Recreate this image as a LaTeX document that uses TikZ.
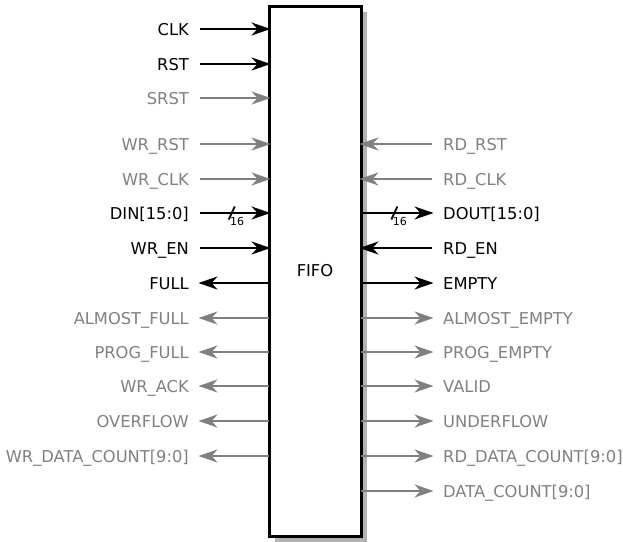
\documentclass[tikz,border=0pt]{standalone}
\usepackage{fontspec}
\setmainfont{DejaVu Sans}
\usetikzlibrary{arrows.meta, positioning, shadows}

\begin{document}
\begin{tikzpicture}[x=1pt, y=-1pt,
    sig/.style={line width=2pt, shorten >=-1.5pt, -{Stealth[length=19pt, width=13pt, inset=6pt]}},
    lbl/.style={inner xsep=11pt, inner ysep=0pt, text height=12pt, text depth=0pt, font=\fontsize{16.3}{19}\selectfont},
    lin/.style={lbl, anchor=east},
    rin/.style={lbl, anchor=west},
    opt/.style={text=gray},
    busw/.style={font=\fontsize{11}{12}\selectfont, inner sep=0pt}]
\useasboundingbox (0,0) rectangle (623,541);
\node[draw, line width=3pt, outer sep=0pt, fill=white, minimum width=92pt, minimum height=530pt,
      drop shadow={shadow xshift=6pt, shadow yshift=-6pt, fill=gray!60, opacity=1},
      font=\fontsize{16.3}{19}\selectfont] (fifo) at (315,271) {FIFO};

% write side
\node[lin] (clk) at (200,29) {CLK};
\node[lin] (rst) at (200,64) {RST};
\node[lin, opt] (srst) at (200,98) {SRST};
\node[lin, opt] (wrrst) at (200,144) {WR\_RST};
\node[lin, opt] (wrclk) at (200,179) {WR\_CLK};
\node[lin] (din) at (200,213) {DIN[15:0]};
\node[lin] (wren) at (200,248) {WR\_EN};
\node[lin] (full) at (200,283) {FULL};
\node[lin, opt] (afull) at (200,318) {ALMOST\_FULL};
\node[lin, opt] (pfull) at (200,352) {PROG\_FULL};
\node[lin, opt] (wrack) at (200,386) {WR\_ACK};
\node[lin, opt] (ovf) at (200,421) {OVERFLOW};
\node[lin, opt] (wrcnt) at (200,456) {WR\_DATA\_COUNT[9:0]};

% read side
\node[rin, opt] (rdrst) at (432,144) {RD\_RST};
\node[rin, opt] (rdclk) at (432,179) {RD\_CLK};
\node[rin] (dout) at (432,213) {DOUT[15:0]};
\node[rin] (rden) at (432,248) {RD\_EN};
\node[rin] (empty) at (432,283) {EMPTY};
\node[rin, opt] (aempty) at (432,318) {ALMOST\_EMPTY};
\node[rin, opt] (pempty) at (432,352) {PROG\_EMPTY};
\node[rin, opt] (valid) at (432,386) {VALID};
\node[rin, opt] (udf) at (432,421) {UNDERFLOW};
\node[rin, opt] (rdcnt) at (432,456) {RD\_DATA\_COUNT[9:0]};
\node[rin, opt] (cnt) at (432,491) {DATA\_COUNT[9:0]};

\draw[sig] (clk) -- (clk -| fifo.west);
\draw[sig] (rst) -- (rst -| fifo.west);
\draw[sig, gray] (srst) -- (srst -| fifo.west);
\draw[sig, gray] (wrrst) -- (wrrst -| fifo.west);
\draw[sig, gray] (wrclk) -- (wrclk -| fifo.west);
\draw[sig] (din) -- coordinate[pos=0.46] (dinbus) (din -| fifo.west);
\draw[sig] (wren) -- (wren -| fifo.west);
\draw[sig] (full -| fifo.west) -- (full);
\draw[sig, gray] (afull -| fifo.west) -- (afull);
\draw[sig, gray] (pfull -| fifo.west) -- (pfull);
\draw[sig, gray] (wrack -| fifo.west) -- (wrack);
\draw[sig, gray] (ovf -| fifo.west) -- (ovf);
\draw[sig, gray] (wrcnt -| fifo.west) -- (wrcnt);

\draw[sig, gray] (rdrst) -- (rdrst -| fifo.east);
\draw[sig, gray] (rdclk) -- (rdclk -| fifo.east);
\draw[sig] (dout -| fifo.east) -- coordinate[pos=0.47] (doutbus) (dout);
\draw[sig] (rden) -- (rden -| fifo.east);
\draw[sig] (empty -| fifo.east) -- (empty);
\draw[sig, gray] (aempty -| fifo.east) -- (aempty);
\draw[sig, gray] (pempty -| fifo.east) -- (pempty);
\draw[sig, gray] (valid -| fifo.east) -- (valid);
\draw[sig, gray] (udf -| fifo.east) -- (udf);
\draw[sig, gray] (rdcnt -| fifo.east) -- (rdcnt);
\draw[sig, gray] (cnt -| fifo.east) -- (cnt);

% bus width marks
\draw[line width=1.8pt] ([shift={(-3,6.5)}]dinbus) -- ([shift={(3,-6.5)}]dinbus);
\node[busw] at ([shift={(5.5,8.5)}]dinbus) {16};
\draw[line width=1.8pt] ([shift={(-3,6.5)}]doutbus) -- ([shift={(3,-6.5)}]doutbus);
\node[busw] at ([shift={(5.5,8.5)}]doutbus) {16};
\end{tikzpicture}
\end{document}
